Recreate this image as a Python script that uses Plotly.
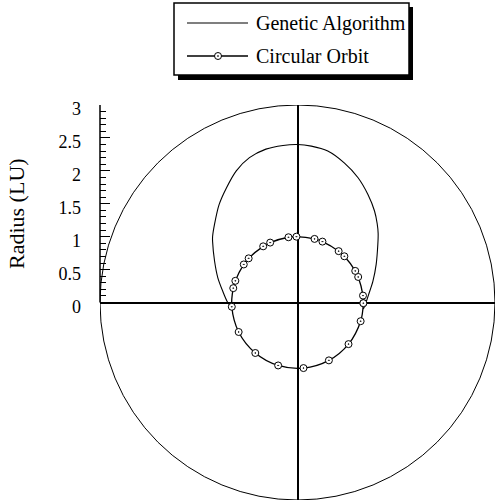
import plotly.graph_objects as go

# ---- data ----
ga_x = [1.00, 1.03, 1.08, 1.145, 1.195, 1.22, 1.225, 1.21, 1.17, 1.07, 0.92, 0.71, 0.46, 0.21, 0.0,
        -0.22, -0.48, -0.73, -0.93, -1.08, -1.19, -1.26, -1.29, -1.29, -1.26, -1.21, -1.135, -1.06, -1.00]
ga_y = [-0.10, -0.03, 0.12, 0.32, 0.58, 0.88, 1.05, 1.20, 1.39, 1.64, 1.895, 2.12, 2.30, 2.375, 2.40,
        2.386, 2.33, 2.20, 2.00, 1.74, 1.49, 1.19, 1.00, 0.93, 0.63, 0.375, 0.17, 0.0, -0.07]

orbit_x = [1.000, 0.995, 0.922, 0.877, 0.712, 0.625, 0.379, 0.259, -0.016, -0.137, -0.415, -0.521,
           -0.742, -0.816, -0.944, -0.976, -0.998, -0.894, -0.641, -0.294, 0.091, 0.477, 0.775, 0.959, 1.000]
orbit_y = [-0.010, 0.105, 0.388, 0.480, 0.702, 0.780, 0.925, 0.966, 1.000, 0.991, 0.910, 0.853,
           0.671, 0.578, 0.329, 0.218, -0.065, -0.448, -0.767, -0.956, -0.996, -0.879, -0.632, -0.284, -0.010]

radius_ticks = [0, 0.5, 1, 1.5, 2, 2.5, 3]
radius_tick_text = ["0", "0.5", "1", "1.5", "2", "2.5", "3"]
radius_minor = [0.1, 0.2, 0.3, 0.4, 0.6, 0.7, 0.8, 0.9, 1.1, 1.2, 1.3, 1.4, 1.6, 1.7, 1.8, 1.9,
                2.1, 2.2, 2.3, 2.4, 2.6, 2.7, 2.8, 2.9]
outer_radius = 3
series_names = ["Genetic Algorithm", "Circular Orbit"]

FONT = "Liberation Serif"
W, H = 497, 504
ML, MR, MT, MB = 100, 2, 105, 4
PW = W - ML - MR
PH = H - MT - MB


def px(x):
    return (x - ML) / PW


def py(y):
    return (H - MB - y) / PH


fig = go.Figure()
fig.add_trace(go.Scatter(x=ga_x, y=ga_y, mode="lines", name=series_names[0],
                         line=dict(color="black", width=1.1, shape="spline", smoothing=0.8),
                         showlegend=False, hoverinfo="skip"))
fig.add_trace(go.Scatter(x=orbit_x, y=orbit_y, mode="lines+markers", name=series_names[1],
                         line=dict(color="black", width=1.3, shape="spline", smoothing=1.0),
                         marker=dict(symbol="circle-dot", size=7, color="white",
                                     line=dict(color="black", width=1)),
                         showlegend=False, hoverinfo="skip"))

shapes = [
    dict(type="circle", xref="x", yref="y", x0=-outer_radius, y0=-outer_radius,
         x1=outer_radius, y1=outer_radius, line=dict(color="black", width=1), layer="below"),
    dict(type="line", xref="paper", yref="y", x0=0, x1=0, y0=0, y1=outer_radius,
         line=dict(color="black", width=1.5)),
    # legend box shadow + box
    dict(type="rect", xref="paper", yref="paper", x0=px(178), x1=px(413), y0=py(80), y1=py(7),
         fillcolor="black", line=dict(width=0)),
    dict(type="rect", xref="paper", yref="paper", x0=px(174), x1=px(409), y0=py(75), y1=py(3),
         fillcolor="white", line=dict(color="black", width=1.5)),
    dict(type="line", xref="paper", yref="paper", x0=px(187), x1=px(248), y0=py(23), y1=py(23),
         line=dict(color="black", width=1.1)),
    dict(type="line", xref="paper", yref="paper", x0=px(187), x1=px(248), y0=py(56), y1=py(56),
         line=dict(color="black", width=1.3)),
    dict(type="circle", xref="paper", yref="paper", xsizemode="pixel", ysizemode="pixel",
         xanchor=px(218), yanchor=py(56), x0=-3.5, x1=3.5, y0=-3.5, y1=3.5,
         fillcolor="white", line=dict(color="black", width=1)),
    dict(type="circle", xref="paper", yref="paper", xsizemode="pixel", ysizemode="pixel",
         xanchor=px(218), yanchor=py(56), x0=-0.6, x1=0.6, y0=-0.6, y1=0.6,
         fillcolor="black", line=dict(color="black", width=0.5)),
]

annotations = [
    dict(text=series_names[0], xref="paper", yref="paper", x=px(254), y=py(23), xanchor="left",
         yanchor="middle", showarrow=False, font=dict(family=FONT, size=20, color="black")),
    dict(text=series_names[1], xref="paper", yref="paper", x=px(254), y=py(56), xanchor="left",
         yanchor="middle", showarrow=False, font=dict(family=FONT, size=20, color="black")),
    dict(text="Radius (LU)", xref="paper", yref="paper", x=px(16), y=py(214), xanchor="center",
         yanchor="middle", textangle=-90, showarrow=False,
         font=dict(family=FONT, size=22, color="black")),
]

fig.update_layout(
    width=W, height=H,
    margin=dict(l=ML, r=MR, t=MT, b=MB, pad=0),
    paper_bgcolor="white", plot_bgcolor="white",
    showlegend=False,
    shapes=shapes, annotations=annotations,
    xaxis=dict(range=[-outer_radius, outer_radius], showgrid=False, showticklabels=False, ticks="",
               zeroline=True, zerolinecolor="black", zerolinewidth=1.5, showline=False, fixedrange=True),
    yaxis=dict(range=[-outer_radius, outer_radius], showgrid=False, zeroline=True,
               zerolinecolor="black", zerolinewidth=1.5, showline=False,
               tickmode="array", tickvals=radius_ticks, ticktext=radius_tick_text,
               ticks="inside", ticklen=10, tickwidth=1.2, tickcolor="black",
               ticklabelstandoff=18, ticklabelshift=4,
               tickfont=dict(family=FONT, size=18, color="black"),
               minor=dict(tickmode="array", tickvals=radius_minor, ticks="inside", ticklen=6,
                          tickwidth=1, tickcolor="black"),
               fixedrange=True),
)

fig.write_html("out.html", config={"displayModeBar": False},
               post_script="document.body.style.margin='0';document.body.style.padding='0';")
